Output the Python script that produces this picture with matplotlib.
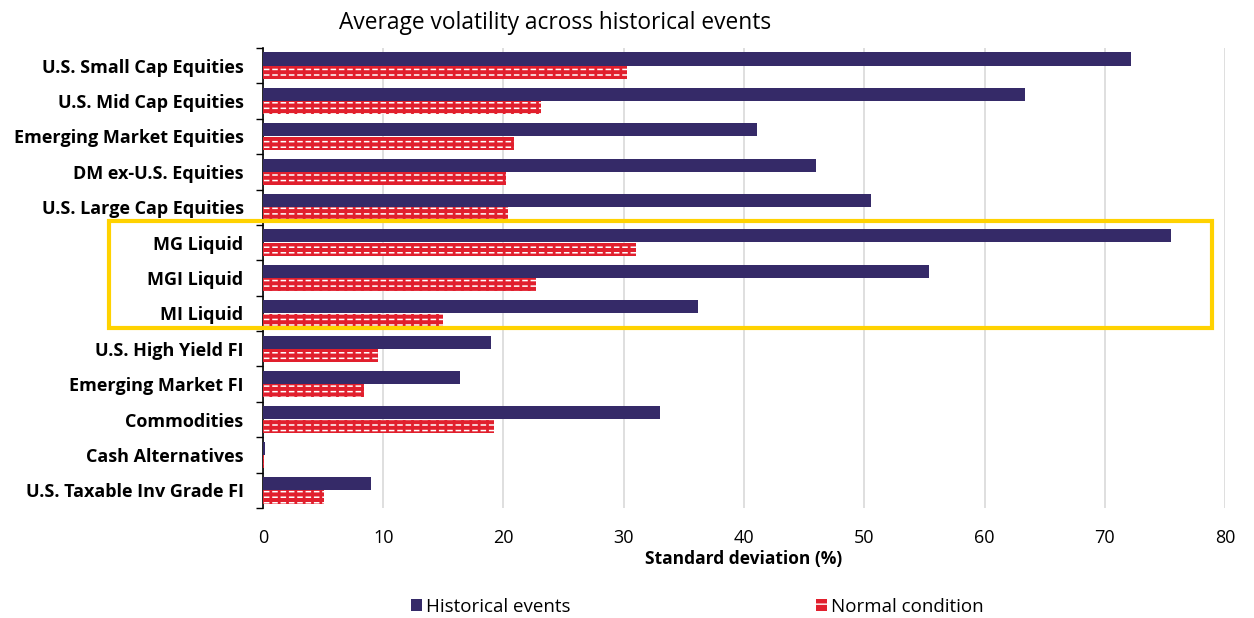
import numpy as np
import matplotlib.pyplot as plt
from matplotlib.patches import Rectangle, Patch

# --- Data ---
categories = ['U.S. Small Cap Equities', 'U.S. Mid Cap Equities', 'Emerging Market Equities',
              'DM ex-U.S. Equities', 'U.S. Large Cap Equities', 'MG Liquid', 'MGI Liquid',
              'MI Liquid', 'U.S. High Yield FI', 'Emerging Market FI', 'Commodities',
              'Cash Alternatives', 'U.S. Taxable Inv Grade FI']
historical = [72.2, 63.4, 41.1, 46.0, 50.6, 75.5, 55.4, 36.2, 19.0, 16.4, 33.0, 0.2, 9.0]
normal = [30.3, 23.1, 20.9, 20.2, 20.4, 31.0, 22.7, 15.0, 9.6, 8.4, 19.2, 0.1, 5.1]
x_ticks = [0, 10, 20, 30, 40, 50, 60, 70, 80]

NAVY = '#352a68'
RED = '#e11f2d'

plt.rcParams['font.family'] = ['Open Sans', 'DejaVu Sans']

fig = plt.figure(figsize=(12.54, 6.18), dpi=100)
ax = fig.add_axes([0.2097, 0.178, 0.7672, 0.7443])

y = np.arange(len(categories))
h = 0.37
ax.barh(y - 0.19, historical, height=h, color=NAVY, zorder=3)
# red bars with white dashes: white horizontal hatch broken by red vertical hatch
with plt.rc_context({'hatch.linewidth': 1.1}):
    ax.barh(y + 0.19, normal, height=h, color=RED, edgecolor='white', linewidth=0,
            hatch='---', zorder=3)
with plt.rc_context({'hatch.linewidth': 2.0}):
    ax.barh(y + 0.19, normal, height=h, color='none', edgecolor=RED, linewidth=0,
            hatch='||', zorder=4)

ax.set_ylim(len(categories) - 0.5, -0.5)
ax.set_xlim(0, 80)
ax.set_xticks(x_ticks)
ax.tick_params(axis='x', length=0, labelsize=13, pad=15)
ax.set_yticks(y)
ax.set_yticklabels(categories, fontsize=13, fontweight='bold')
ax.tick_params(axis='y', which='major', length=0, pad=14)
ax.set_yticks(np.arange(len(categories) + 1) - 0.5, minor=True)
ax.tick_params(axis='y', which='minor', length=5, width=1, color='black')

ax.grid(axis='x', color='#d9d9d9', linewidth=1.2, zorder=0)
for s in ['top', 'right', 'bottom']:
    ax.spines[s].set_visible(False)
ax.spines['left'].set_color('black')
ax.spines['left'].set_linewidth(1.2)
ax.set_xlabel('Standard deviation (%)', fontsize=12.5, fontweight='bold', labelpad=2)

fig.text(0.443, 0.963, 'Average volatility across historical events', fontsize=16.4,
         ha='center', va='center')

# highlight box around the liquid portfolios
fig.patches.append(Rectangle((109 / 1254, 1 - 328 / 618), (1212 - 109) / 1254, (328 - 221) / 618,
                             transform=fig.transFigure, fill=False, edgecolor='#ffd200',
                             linewidth=3, zorder=10))

handles = [Patch(facecolor=NAVY), Patch(facecolor=RED, edgecolor='white', hatch='--', linewidth=0)]
fig.legend(handles, ['Historical events', 'Normal condition'], loc='center',
           bbox_to_anchor=(0.556, 0.018), ncol=2, frameon=False, fontsize=13.5,
           handlelength=0.6, handleheight=0.6, handletextpad=0.2, columnspacing=13.1)

fig.savefig('out.png', dpi=100)
